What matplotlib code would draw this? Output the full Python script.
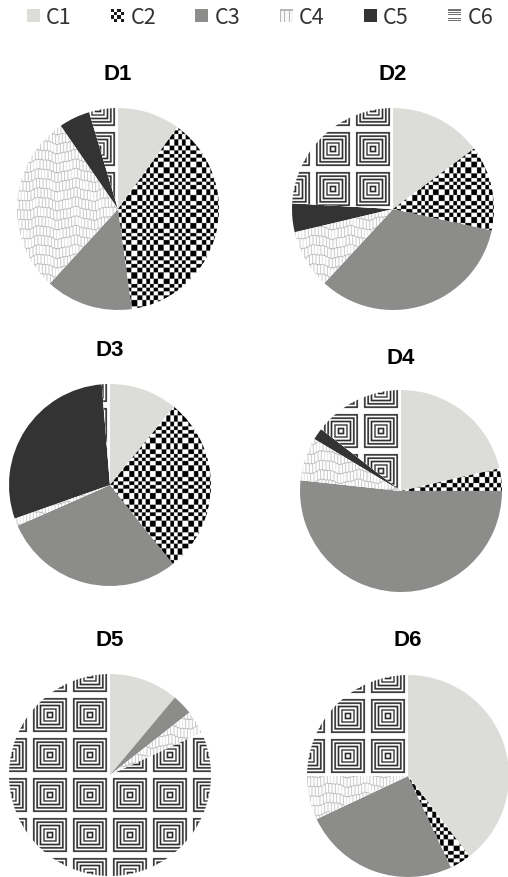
import numpy as np
import matplotlib
matplotlib.use("Agg")
import matplotlib.pyplot as plt
from matplotlib.legend_handler import HandlerBase
from matplotlib.image import BboxImage
from matplotlib.transforms import Bbox, TransformedBbox
from matplotlib.patches import Patch

plt.rcParams["font.family"] = ["Noto Sans CJK KR", "DejaVu Sans"]

# ---- data: share of each category (%) in every panel ----
categories = ["C1", "C2", "C3", "C4", "C5", "C6"]
panels = ["D1", "D2", "D3", "D4", "D5", "D6"]
D1 = [10.0, 37.8, 14.0, 28.6, 5.0, 4.6]
D2 = [14.8, 13.6, 33.5, 9.4, 4.6, 24.1]
D3 = [10.9, 28.4, 29.1, 1.2, 29.1, 1.3]
D4 = [21.4, 3.6, 51.7, 6.9, 1.9, 14.5]
D5 = [11.1, 0.0, 3.3, 3.7, 0.0, 81.9]
D6 = [39.6, 3.4, 25.0, 7.0, 0.0, 25.0]
values = [D1, D2, D3, D4, D5, D6]

# ---- layout (pixels, measured from the top-left corner) ----
W, H, DPI = 508, 878, 100
# centre x, centre y, radius, title y
layout = [
    (118, 210, 101, 74.5),
    (393, 210, 101, 74.5),
    (110, 486, 101, 350.5),
    (401, 492, 101, 358.5),
    (110, 776, 101, 641.0),
    (408, 777, 101, 641.0),
]

# ---- fill textures, defined in pixel units ----
def rgb(g):
    return np.dstack([g, g, g])


def checker(px, py):
    u = px + 1.3 * np.sin(2 * np.pi * px / 31.0)
    v = py + 1.3 * np.sin(2 * np.pi * py / 27.0)
    c = (np.floor(u / 4.6) + np.floor(v / 4.6)) % 2
    return rgb(np.where(c == 0, 0.0, 1.0))


def skin(px, py):
    w = py + 1.8 * np.sin(2 * np.pi * px / 34.0) + 0.5 * np.sin(2 * np.pi * px / 13.0)
    row = np.floor(w / 9.5)
    g = np.ones_like(px)
    vert = ((px + row * 1.4) % 3.3) < 0.6
    hor = (w % 9.5) < 0.7
    g = np.where(vert, 0.70, g)
    g = np.where(hor, 0.66, g)
    return rgb(g)


def squares(px, py, T=40.0):
    lx = (px % T) - T / 2
    ly = (py % T) - T / 2
    d = np.maximum(np.abs(lx), np.abs(ly))
    black = ((d % 3.4) >= 1.8) & (d < 18.6)
    return rgb(np.where(black, 0.18, 1.0))


solid = {"C1": "#dcdcd8", "C3": "#8c8c8a", "C5": "#333333"}
textures = {"C2": checker, "C4": skin, "C6": squares}

fig = plt.figure(figsize=(W / DPI, H / DPI), dpi=DPI)
fig.patch.set_facecolor("white")

PAD = 1.12
SS = 3  # supersampling of texture images
for name, vals, (cx, cy, r, ty) in zip(panels, values, layout):
    half = r * PAD
    ax = fig.add_axes([(cx - half) / W, 1 - (cy + half) / H, 2 * half / W, 2 * half / H])
    colors = [solid.get(c, "white") for c in categories]
    wedges, _ = ax.pie(vals, colors=colors, startangle=90, counterclock=False,
                       radius=1.0, wedgeprops=dict(linewidth=0))
    n = int(round(2 * r * SS))
    coords = (np.arange(n) + 0.5) / SS - r
    px, py = np.meshgrid(coords, coords)
    for cat, wedge, v in zip(categories, wedges, vals):
        if cat in textures and v > 0:
            img = textures[cat](px, py)
            im = ax.imshow(img, extent=(-1, 1, -1, 1), origin="lower",
                           interpolation="antialiased", zorder=2)
            im.set_clip_path(wedge)
    ax.set_xlim(-PAD, PAD)
    ax.set_ylim(-PAD, PAD)
    ax.set_aspect("equal")
    ax.axis("off")
    fig.text(cx / W, 1 - ty / H, name, ha="center", va="center",
             fontsize=16, fontweight="bold", color="black",
             family=["Liberation Sans", "DejaVu Sans"])


# ---- legend with small texture swatches ----
def icon(cat, n=12):
    yy, xx = np.mgrid[0:n, 0:n].astype(float)
    if cat in solid:
        c = matplotlib.colors.to_rgb(solid[cat])
        return np.ones((n, n, 3)) * np.array(c)
    if cat == "C2":
        c = (np.floor(xx / 3) + np.floor(yy / 3)) % 2
        return rgb(np.where(c == 0, 0.1, 1.0))
    if cat == "C4":
        g = np.where((xx % 4) < 1, 0.72, 0.97)
        g = np.where(yy < 1.5, 0.72, g)
        return rgb(g)
    g = np.where((yy % 2.4) < 1.2, 0.45, 1.0)
    return rgb(g)


class SwatchHandler(HandlerBase):
    def __init__(self, img):
        super().__init__()
        self.img = img

    def create_artists(self, legend, orig_handle, xdescent, ydescent,
                       width, height, fontsize, trans):
        side = min(width, height)
        bb = Bbox.from_bounds(-xdescent + (width - side) / 2,
                              -ydescent + (height - side) / 2, side, side)
        im = BboxImage(TransformedBbox(bb, trans), interpolation="nearest")
        im.set_data(self.img)
        return [im]


handles = [Patch(label=c) for c in categories]
hmap = {h: SwatchHandler(icon(c)) for h, c in zip(handles, categories)}
leg = fig.legend(handles=handles, handler_map=hmap, loc="center",
                 bbox_to_anchor=(260 / W, 1 - 18 / H), ncol=6, frameon=False,
                 fontsize=15.5, handlelength=0.58, handleheight=0.58,
                 handletextpad=0.32, columnspacing=1.82, borderpad=0)
for t in leg.get_texts():
    t.set_color("#333333")

fig.savefig("out.png", dpi=DPI, facecolor="white")
